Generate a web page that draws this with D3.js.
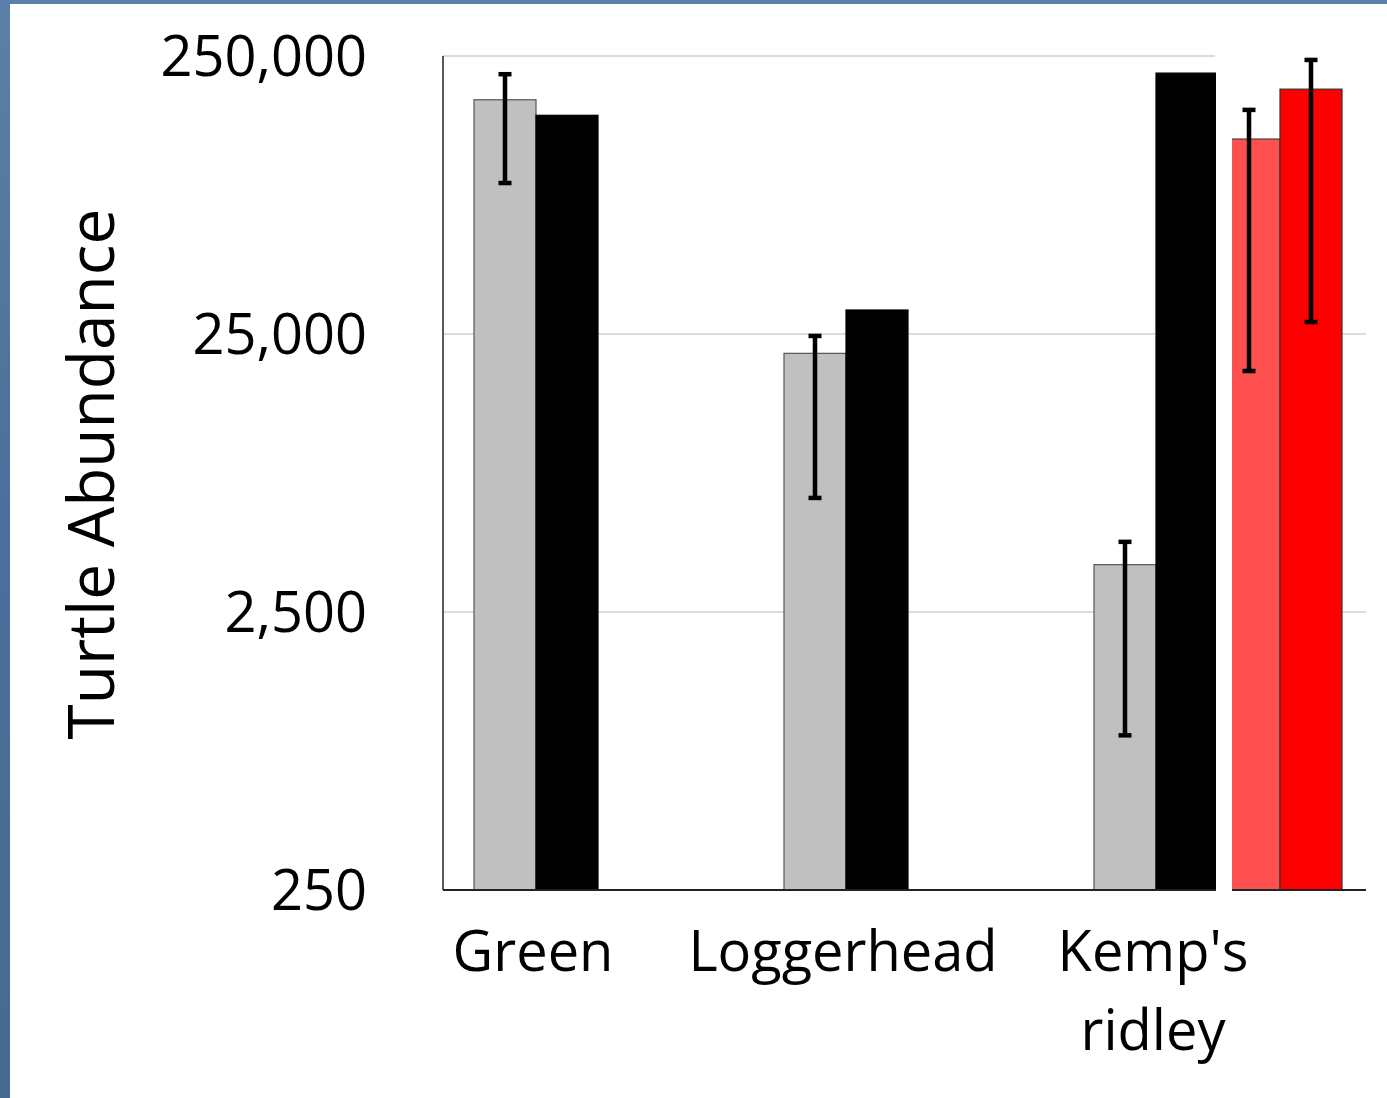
<!DOCTYPE html>
<html>
<head>
<meta charset="utf-8">
<script src="https://cdn.jsdelivr.net/npm/d3@7"></script>
<style>
  body { margin: 0; background: #4a6f9a; }
  svg { display: block; }
  text { font-family: "Open Sans", "Noto Sans", sans-serif; fill: #000; }
</style>
</head>
<body>
<svg id="chart"></svg>
<script>
// Chart data
const categories = ["Green", "Loggerhead", "Kemp's ridley"];
const seriesNames = ["before", "after", "modelLow", "modelHigh"];
const seriesColors = ["#c0c0c0", "#000000", "#ff5050", "#ff0000"];
const seriesStrokes = ["#555555", "#000000", "#444444", "#333333"];
// bar heights per category, per series (null = no bar)
const barValues = [
  [174000, 153000, null, null],
  [21300, 30500, null, null],
  [3700, 217000, 125700, 190000]
];
// error bar low / high per category, per series
const errLow = [
  [87300, null, null, null],
  [6430, null, null, null],
  [900, null, 18400, 27600]
];
const errHigh = [
  [215000, null, null, null],
  [24600, null, null, null],
  [4470, null, 160000, 242000]
];
const yTicks = [250, 2500, 25000, 250000];

const W = 1387, H = 1098;
const margin = { top: 56, right: 21, bottom: 208, left: 443 };
const plotW = W - margin.left - margin.right;
const plotH = H - margin.top - margin.bottom;

const svgRoot = d3.select("#chart").attr("width", W).attr("height", H);

// blue frame with a bit of texture, white panel
const defs = svgRoot.append("defs");
const grad = defs.append("linearGradient").attr("id", "frame").attr("x1", 0).attr("y1", 0).attr("x2", 0).attr("y2", 1);
grad.append("stop").attr("offset", 0).attr("stop-color", "#5a7fa8");
grad.append("stop").attr("offset", 0.5).attr("stop-color", "#4a6f9a");
grad.append("stop").attr("offset", 1).attr("stop-color", "#466a93");
svgRoot.append("rect").attr("width", W).attr("height", H).attr("fill", "url(#frame)");
svgRoot.append("rect").attr("x", 10).attr("y", 4).attr("width", W - 10).attr("height", H - 4).attr("fill", "#fff");

const svg = svgRoot.append("g").attr("transform", `translate(${margin.left}, ${margin.top})`);

const x0 = d3.scaleBand()
  .domain(categories)
  .range([0, 930])
  .paddingInner(0.2)
  .paddingOuter(0.1);

const x1 = d3.scaleBand()
  .domain(seriesNames)
  .range([0, x0.bandwidth()]);

const y = d3.scaleLog()
  .domain([250, 250000])
  .range([plotH, 0]);

// gridlines
svg.append("g")
  .selectAll("line")
  .data(yTicks.slice(1))
  .enter()
  .append("line")
  .attr("x1", 0)
  .attr("x2", plotW)
  .attr("y1", d => y(d))
  .attr("y2", d => y(d))
  .attr("stroke", "#d0d0d0")
  .attr("stroke-width", 1.5);

// the pasted-in red panel hides the top gridline
const kx = x0("Kemp's ridley") + x1("modelLow") - 3;
svg.append("rect")
  .attr("x", kx)
  .attr("y", -8)
  .attr("width", plotW - kx + 5)
  .attr("height", 14)
  .attr("fill", "#fff");

// y tick labels
svg.append("g")
  .selectAll("text")
  .data(yTicks)
  .enter()
  .append("text")
  .attr("x", -76)
  .attr("y", d => y(d))
  .attr("dy", "0.35em")
  .attr("text-anchor", "end")
  .style("font-size", "56px")
  .text(d => d3.format(",")(d));

// bars
const rows = [];
categories.forEach((c, i) => {
  seriesNames.forEach((s, j) => {
    rows.push({ cat: c, ser: s, j: j, v: barValues[i][j], lo: errLow[i][j], hi: errHigh[i][j] });
  });
});

svg.append("g")
  .selectAll("rect")
  .data(rows.filter(d => d.v != null))
  .enter()
  .append("rect")
  .attr("x", d => x0(d.cat) + x1(d.ser))
  .attr("y", d => y(d.v))
  .attr("width", x1.bandwidth())
  .attr("height", d => plotH - y(d.v))
  .attr("fill", d => seriesColors[d.j])
  .attr("stroke", d => seriesStrokes[d.j])
  .attr("stroke-width", 1.2);

// axes lines
svg.append("line").attr("x1", 0).attr("x2", 0).attr("y1", 0).attr("y2", plotH)
  .attr("stroke", "#222").attr("stroke-width", 1.5);
svg.append("line").attr("x1", 0).attr("x2", plotW).attr("y1", plotH).attr("y2", plotH)
  .attr("stroke", "#222").attr("stroke-width", 2);

// white gap strip left of the red bars
const gapX = x0("Kemp's ridley") + x1("after") + x1.bandwidth() - 2;
svg.append("rect")
  .attr("x", gapX)
  .attr("y", -8)
  .attr("width", 16)
  .attr("height", plotH + 10)
  .attr("fill", "#fff");

// error bars
const errs = rows.filter(d => d.lo != null);
const eg = svg.append("g").attr("stroke", "#000");
eg.selectAll(".stem")
  .data(errs)
  .enter()
  .append("line")
  .attr("x1", d => x0(d.cat) + x1(d.ser) + x1.bandwidth() / 2)
  .attr("x2", d => x0(d.cat) + x1(d.ser) + x1.bandwidth() / 2)
  .attr("y1", d => y(d.lo))
  .attr("y2", d => y(d.hi))
  .attr("stroke-width", 4.5);
[d => d.lo, d => d.hi].forEach(f => {
  eg.selectAll(null)
    .data(errs)
    .enter()
    .append("line")
    .attr("x1", d => x0(d.cat) + x1(d.ser) + x1.bandwidth() / 2 - 6.5)
    .attr("x2", d => x0(d.cat) + x1(d.ser) + x1.bandwidth() / 2 + 6.5)
    .attr("y1", d => y(f(d)))
    .attr("y2", d => y(f(d)))
    .attr("stroke-width", 4.5);
});

// category labels (centred on the first two series)
const lab = svg.append("g")
  .selectAll("text")
  .data(categories)
  .enter()
  .append("text")
  .attr("x", d => x0(d) + x1("after") - 3)
  .attr("y", plotH + 81)
  .attr("text-anchor", "middle")
  .style("font-size", "56px");
lab.each(function(d) {
  const parts = d === "Kemp's ridley" ? ["Kemp's", "ridley"] : [d];
  parts.forEach((p, k) => {
    d3.select(this).append("tspan")
      .attr("x", x0(d) + x1("after") - 3)
      .attr("dy", k === 0 ? 0 : 79)
      .text(p);
  });
});

// y axis title
svg.append("text")
  .attr("transform", `translate(${-329}, ${plotH / 2 + 1}) rotate(-90)`)
  .attr("text-anchor", "middle")
  .style("font-size", "64px")
  .text("Turtle Abundance");
</script>
</body>
</html>
